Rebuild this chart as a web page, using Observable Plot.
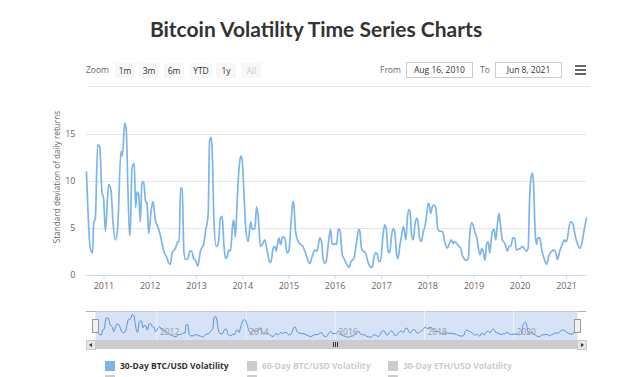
<!DOCTYPE html>
<html><head><meta charset="utf-8">
<script src="https://cdn.jsdelivr.net/npm/d3@7"></script>
<script src="https://cdn.jsdelivr.net/npm/@observablehq/plot@0.6"></script>
<style>
body{margin:0;background:#fff;width:620px;height:377px;overflow:hidden;position:relative;font-family:"Open Sans",sans-serif;}
.abs{position:absolute;}
#title{left:6px;width:620px;top:16px;text-align:center;font-family:Lato,sans-serif;font-weight:700;font-size:21px;color:#333;letter-spacing:0px;}
.zl{font-size:8.5px;color:#666;line-height:14px;}
.btn{background:#f7f7f7;height:15px;line-height:15px;text-align:center;font-size:8.5px;color:#333;top:63px;}
.box{border:1px solid #ccc;height:14px;line-height:14px;text-align:center;font-size:8.5px;color:#333;top:62px;background:#fff;}
.hb{background:#666;height:2px;width:11px;left:575px;}
.sq{width:10px;height:10px;}
.lt{font-size:8.5px;font-weight:700;line-height:10px;white-space:nowrap;}
</style></head>
<body>
<div id="title" class="abs">Bitcoin Volatility Time Series Charts</div>
<div id="toolbar"></div>
<div id="chart" class="abs" style="left:0;top:100px;"></div>
<div class="abs" style="left:86px;top:311px;width:500px;height:1px;background:#b2b1b6;"></div>
<div id="nav" class="abs" style="left:0;top:311px;"></div>
<div id="scroll"></div>
<div id="legend"></div>
<script>
// ---- data ----
const dates = [
"2010-08-16","2010-09-15","2010-10-03","2010-10-12","2010-10-25","2010-11-12","2010-11-28","2010-12-16","2010-12-29",
"2011-01-12","2011-02-07","2011-02-26","2011-03-13","2011-04-01","2011-04-19","2011-05-15","2011-05-23","2011-05-31",
"2011-06-13","2011-06-26","2011-07-09","2011-07-22","2011-07-27","2011-08-10","2011-08-28","2011-09-08","2011-09-19",
"2011-10-02","2011-10-15","2011-10-28","2011-11-10","2011-11-26","2011-12-07","2011-12-20",
"2012-01-08","2012-01-23","2012-02-11","2012-03-01","2012-03-17","2012-04-04","2012-04-17","2012-05-09","2012-05-27",
"2012-06-09","2012-06-23","2012-07-19","2012-08-07","2012-08-17","2012-08-28","2012-09-10","2012-09-23","2012-10-06",
"2012-10-24","2012-11-09","2012-11-22","2012-12-10","2012-12-24",
"2013-01-11","2013-02-01","2013-02-28","2013-03-13","2013-04-03","2013-04-14","2013-04-27","2013-05-05","2013-05-18",
"2013-06-05","2013-06-21","2013-07-09","2013-07-23","2013-08-05","2013-08-18","2013-08-31","2013-09-13","2013-09-26",
"2013-10-15","2013-10-22","2013-11-04","2013-11-18","2013-12-01","2013-12-16","2013-12-27",
"2014-01-09","2014-01-23","2014-02-13","2014-03-04","2014-03-17","2014-04-07","2014-04-20","2014-05-03","2014-05-21",
"2014-06-09","2014-06-24","2014-07-13","2014-07-31","2014-08-11","2014-08-29","2014-09-11","2014-09-22","2014-10-13",
"2014-10-26","2014-11-13","2014-11-29","2014-12-17","2014-12-31",
"2015-01-19","2015-02-01","2015-02-09","2015-02-22","2015-03-15","2015-04-03","2015-04-21","2015-05-12","2015-06-02",
"2015-06-15","2015-07-03","2015-07-24","2015-08-11","2015-09-02","2015-09-15","2015-09-28","2015-10-11","2015-10-22",
"2015-11-07","2015-11-25","2015-12-08","2015-12-21",
"2016-01-04","2016-01-12","2016-01-25","2016-02-07","2016-02-26","2016-03-15","2016-04-05","2016-04-18","2016-05-06",
"2016-05-28","2016-06-18","2016-07-06","2016-07-14","2016-07-27","2016-08-09","2016-08-28","2016-09-15","2016-10-01",
"2016-10-19","2016-11-01","2016-11-14","2016-11-28","2016-12-11","2016-12-24",
"2017-01-13","2017-01-26","2017-02-08","2017-02-21","2017-03-06","2017-03-22","2017-04-04","2017-04-15","2017-05-01",
"2017-05-11","2017-05-27","2017-06-07","2017-06-23","2017-07-05","2017-07-13","2017-07-24","2017-08-06","2017-08-14",
"2017-08-27","2017-09-09","2017-09-22","2017-10-05","2017-10-16","2017-10-29","2017-11-11","2017-11-27","2017-12-10","2017-12-24",
"2018-01-06","2018-01-16","2018-01-24","2018-02-06","2018-02-19","2018-03-05","2018-03-23","2018-04-13","2018-04-27",
"2018-05-15","2018-06-05","2018-06-18","2018-07-07","2018-07-20","2018-08-02","2018-08-18","2018-09-05","2018-09-18",
"2018-09-26","2018-10-14","2018-11-02","2018-11-17","2018-12-01","2018-12-14","2018-12-25",
"2019-01-10","2019-01-23","2019-02-05","2019-02-18","2019-03-04","2019-03-14","2019-03-30","2019-04-10","2019-04-23",
"2019-05-06","2019-05-16","2019-05-27","2019-06-09","2019-06-22","2019-07-05","2019-07-18","2019-07-31","2019-08-13",
"2019-09-03","2019-09-22","2019-10-05","2019-10-18","2019-11-05","2019-11-19","2019-12-02","2019-12-17",
"2020-01-05","2020-01-18","2020-01-31","2020-02-19","2020-03-04","2020-03-17","2020-03-28","2020-04-07","2020-04-15",
"2020-04-28","2020-05-09","2020-05-19","2020-06-04","2020-06-20","2020-07-08","2020-07-27","2020-08-17","2020-09-07",
"2020-09-26","2020-10-09","2020-10-22","2020-11-09","2020-12-01","2020-12-14","2020-12-27",
"2021-01-09","2021-01-22","2021-02-07","2021-02-23","2021-03-10","2021-03-28","2021-04-16","2021-05-02","2021-05-21","2021-06-08"
];
const volatility30 = [
11.0,2.9,2.4,5.6,6.1,13.9,13.7,8.9,8.2,
4.7,9.7,9.0,5.7,3.8,5.0,13.2,12.7,13.4,
16.2,15.5,9.3,4.3,4.3,11.4,11.9,7.2,8.9,
8.6,5.7,9.8,10.0,7.9,7.7,4.5,
6.8,7.9,5.9,5.2,4.5,3.4,2.6,2.0,1.3,
1.2,2.4,2.9,3.6,3.6,9.3,9.3,2.6,1.7,
1.8,2.6,2.6,1.8,1.6,
1.0,2.6,3.4,4.7,6.5,14.3,14.7,13.2,6.1,
3.1,3.3,6.1,6.3,3.3,1.8,2.0,2.7,2.6,
5.6,5.9,4.1,7.9,11.1,12.7,12.3,
9.3,5.4,3.6,5.7,4.9,5.0,7.3,6.3,3.1,
3.4,3.8,2.6,1.5,1.4,2.9,3.1,2.6,4.0,
3.3,4.1,4.0,2.4,2.6,
5.9,7.9,7.5,4.7,3.6,3.3,3.1,2.4,1.5,
1.3,2.0,2.7,2.6,4.0,3.6,1.8,1.3,1.5,
3.3,4.9,3.4,3.3,
3.4,3.3,4.9,4.9,2.2,1.7,1.1,0.85,1.5,
1.8,3.6,4.9,4.7,2.9,2.6,2.4,1.5,1.0,
0.85,1.8,2.4,2.3,1.5,1.5,
4.3,5.4,4.9,2.6,2.4,4.3,5.0,4.7,2.2,
1.8,3.3,4.1,5.2,4.3,3.8,6.1,7.0,6.8,
4.3,3.8,5.4,6.1,5.7,4.0,3.6,4.7,5.2,6.5,
7.7,7.3,6.6,7.3,7.5,7.2,4.9,4.7,4.7,
3.6,2.9,3.3,3.8,3.4,3.6,3.4,3.1,2.9,
2.4,1.8,1.6,1.8,4.7,5.6,5.4,
4.5,4.1,2.9,2.2,2.9,2.6,1.6,3.3,3.6,
2.4,3.6,4.7,4.9,3.8,5.4,6.6,5.2,3.8,
3.4,2.6,3.1,3.1,4.0,4.0,2.7,2.8,
2.9,3.1,2.9,2.6,2.9,8.6,10.5,10.9,10.0,
4.7,3.3,4.0,4.0,2.7,1.8,1.2,2.2,2.6,
2.7,2.4,1.7,2.6,3.4,3.8,3.6,
4.0,5.2,5.7,5.4,4.3,3.4,2.9,3.4,4.9,6.1
];
const rangeStart = "2010-08-16";
const rangeEnd = "2021-06-08";
const xTickYears = [2011,2012,2013,2014,2015,2016,2017,2018,2019,2020,2021];
const yTicks = [0,5,10,15];
const navTickYears = [2012,2014,2016,2018,2020];
const yTitle = "Standard deviation of daily returns";
const zoomButtons = ["1m","3m","6m","YTD","1y","All"];
const fromDate = "Aug 16, 2010";
const toDate = "Jun 8, 2021";
const legendItems = ["30-Day BTC/USD Volatility","60-Day BTC/USD Volatility","30-Day ETH/USD Volatility"];

// ---- build ----
const data = dates.map((d,i)=>({date:new Date(d+"T00:00:00Z"), v:volatility30[i]}));
const xDomain = [new Date(rangeStart+"T00:00:00Z"), new Date(rangeEnd+"T00:00:00Z")];
const yearDate = y => new Date(Date.UTC(y,0,1));
const font = "'Open Sans', sans-serif";

const main = Plot.plot({
  width:620, height:200,
  marginLeft:86, marginRight:34, marginTop:0, marginBottom:25,
  style:{fontFamily:font, fontSize:"9px", background:"transparent", overflow:"visible"},
  x:{type:"utc", domain:xDomain},
  y:{domain:[0,15], range:[175,34]},
  marks:[
    Plot.ruleY(yTicks.filter(d=>d>0), {stroke:"#e6e6e6", strokeWidth:1}),
    Plot.ruleY([0], {stroke:"#ccd6eb", strokeWidth:1}),
    Plot.lineY(data, {x:"date", y:"v", stroke:"#7cb5ec", strokeWidth:1.7, curve:"monotone-x"}),
    Plot.axisX(xTickYears.map(yearDate), {tickFormat:d=>String(d.getUTCFullYear()), tickSize:4, tickPadding:3, stroke:"#ccd6eb", color:"#666", label:null, fontSize:9}),
    Plot.axisY(yTicks, {tickSize:0, tickPadding:11, color:"#666", label:null, fontSize:9}),
    Plot.text([yTitle], {text:d=>d, frameAnchor:"left", textAnchor:"middle", rotate:-90, dx:-29, dy:-11, fill:"#666", fontSize:8.2})
  ]
});
document.getElementById("chart").appendChild(main);

const nav = Plot.plot({
  width:620, height:29,
  marginLeft:95, marginRight:43, marginTop:0, marginBottom:0,
  style:{fontFamily:font, fontSize:"8px", background:"transparent", overflow:"visible"},
  x:{type:"utc", domain:xDomain, axis:null},
  y:{domain:[0,16.2], range:[27,3], axis:null},
  marks:[
    Plot.frame({fill:"#d6e3f6", stroke:null}),
    Plot.ruleX(navTickYears.map(yearDate), {stroke:"#eef3fb"}),
    Plot.lineY(data, {x:"date", y:"v", stroke:"#5b8dd3", strokeWidth:1, curve:"monotone-x"}),
    Plot.text(navTickYears.map(yearDate), {x:d=>d, text:d=>String(d.getUTCFullYear()), frameAnchor:"bottom", textAnchor:"start", dx:3, dy:-6, fill:"#999", fontSize:8.5})
  ]
});
document.getElementById("nav").appendChild(nav);

// handles on navigator edges
const navX = nav.scale("x");
for (const d of xDomain) {
  const px = navX.apply(d);
  const h = document.createElement("div");
  h.className="abs";
  h.style.cssText=`left:${px-3}px;top:319px;width:5px;height:12px;background:#f2f2f2;border:1px solid #999;`;
  document.body.appendChild(h);
}
// scrollbar
const sc = document.getElementById("scroll");
sc.innerHTML = `
<div class="abs" style="left:86px;top:340px;width:500px;height:9px;background:#f2f2f2;"></div>
<div class="abs" style="left:95px;top:340px;width:482px;height:9px;background:#cccccc;"></div>
<div class="abs" style="left:86px;top:340px;width:8px;height:8px;background:#e6e6e6;border:1px solid #cccccc;"></div>
<div class="abs" style="left:577px;top:340px;width:8px;height:8px;background:#e6e6e6;border:1px solid #cccccc;"></div>
<div class="abs" style="left:89px;top:343px;width:0;height:0;border-top:2px solid transparent;border-bottom:2px solid transparent;border-right:3px solid #333;"></div>
<div class="abs" style="left:581px;top:343px;width:0;height:0;border-top:2px solid transparent;border-bottom:2px solid transparent;border-left:3px solid #333;"></div>
<div class="abs" style="left:333px;top:342px;width:1px;height:5px;background:#333;"></div>
<div class="abs" style="left:335px;top:342px;width:1px;height:5px;background:#333;"></div>
<div class="abs" style="left:337px;top:342px;width:1px;height:5px;background:#333;"></div>`;

// toolbar
const tb = document.getElementById("toolbar");
const btnPos = [[115,20],[139,20],[164,20],[190,22],[216,20],[242,19]];
let html = `<div class="abs zl" style="left:86px;top:63px;">Zoom</div>`;
zoomButtons.forEach((b,i)=>{
  const [l,w]=btnPos[i];
  html += `<div class="abs btn" style="left:${l}px;width:${w}px;${b==="All"?"color:#ccc;":""}">${b}</div>`;
});
html += `<div class="abs zl" style="left:380px;top:63px;">From</div>`;
html += `<div class="abs box" style="left:406px;width:65px;">${fromDate}</div>`;
html += `<div class="abs zl" style="left:480px;top:63px;">To</div>`;
html += `<div class="abs box" style="left:495px;width:65px;">${toDate}</div>`;
html += `<div class="abs hb" style="top:65px;"></div><div class="abs hb" style="top:69px;"></div><div class="abs hb" style="top:73px;"></div>`;
html += `<div class="abs" style="left:87px;top:86px;width:503px;height:1px;background:#e6e6e6;"></div>`;
tb.innerHTML = html;

// legend
const lg = document.getElementById("legend");
const legendX = [105,247,388];
let lh = "";
legendItems.forEach((t,i)=>{
  const on = i===0;
  lh += `<div class="abs sq" style="left:${legendX[i]}px;top:361px;background:${on?"#7cb5ec":"#cccccc"};"></div>`;
  lh += `<div class="abs lt" style="left:${legendX[i]+15}px;top:361px;color:${on?"#333":"#cccccc"};">${t}</div>`;
  lh += `<div class="abs sq" style="left:${legendX[i]}px;top:375px;background:#cccccc;"></div>`;
});
lg.innerHTML = lh;
</script>
</body></html>
